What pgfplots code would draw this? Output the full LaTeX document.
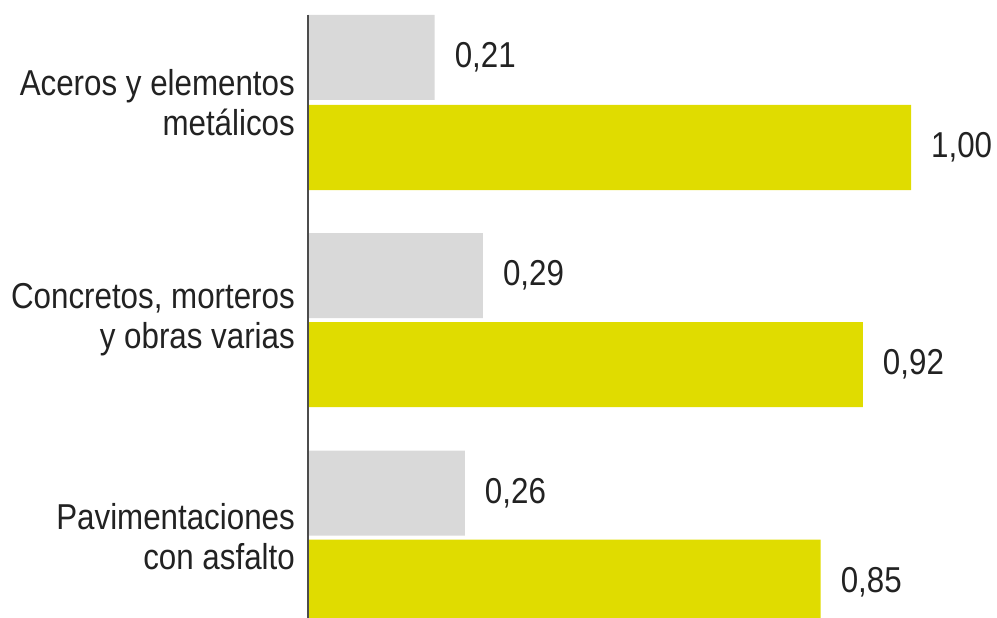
\documentclass[border=0pt]{standalone}
\usepackage{fontspec}
\setmainfont{Liberation Sans}[FakeStretch=0.87]
\usepackage{pgfplots}
\pgfplotsset{compat=1.18}

\definecolor{barGray}{HTML}{D9D9D9}
\definecolor{barYellow}{HTML}{E0DC00}
\definecolor{txt}{HTML}{222222}

\begin{document}
\begin{tikzpicture}[x=1pt,y=1pt]
\useasboundingbox (0,0) rectangle (997,618);
\begin{axis}[
    at={(308pt,0pt)}, anchor=south west,
    scale only axis,
    width=689pt, height=603pt,
    xmin=0, xmax=1.1426,
    ymin=15, ymax=618,
    y dir=reverse,
    axis on top,
    axis x line=none,
    axis y line=left,
    y axis line style={-, line width=2pt, black!70},
    ytick={102.5,320,537},
    yticklabels={{Aceros y elementos\\metálicos},{Concretos, morteros\\y obras varias},{Pavimentaciones\\con asfalto}},
    major tick length=0pt,
    yticklabel style={align=right, inner sep=0pt, xshift=-13pt, text=txt,
        font=\fontsize{36}{40}\selectfont},
    xbar, bar width=85,
    nodes near coords,
    every node near coord/.append style={anchor=west, inner sep=0pt, xshift=20pt,
        text=txt, font=\fontsize{36}{40}\selectfont,
        /pgf/number format/.cd, fixed, fixed zerofill, precision=2, use comma, assume math mode=true},
]
\addplot[xbar, bar shift=0pt, fill=barGray, draw=none] coordinates {(0.21,57.5) (0.29,275.5) (0.26,493)};
\addplot[xbar, bar shift=0pt, fill=barYellow, draw=none] coordinates {(1.00,147.5) (0.92,364.5) (0.85,582)};
\end{axis}
\end{tikzpicture}
\end{document}
